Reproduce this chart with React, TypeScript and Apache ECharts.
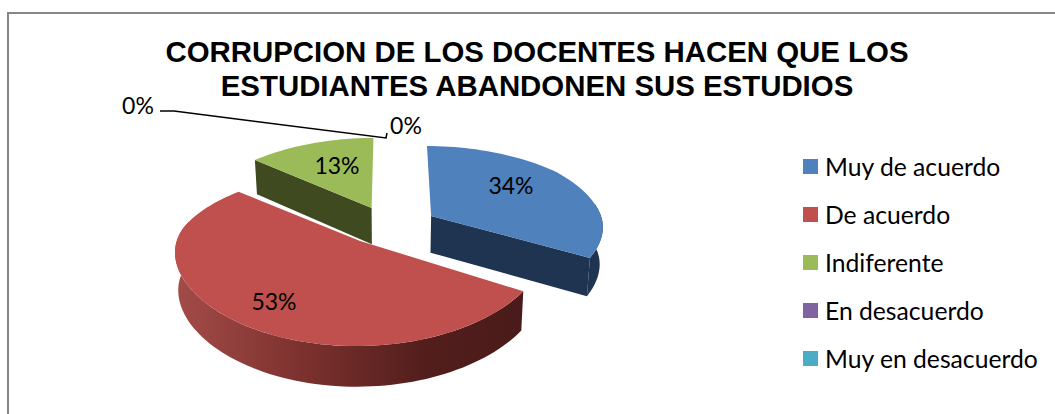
import React, { useEffect, useRef } from "react";
import * as echarts from "echarts";

const TITLE = "CORRUPCION DE LOS DOCENTES HACEN QUE LOS\nESTUDIANTES ABANDONEN SUS ESTUDIOS";
const categories = ["Muy de acuerdo", "De acuerdo", "Indiferente", "En desacuerdo", "Muy en desacuerdo"];
const values = [34, 53, 13, 0, 0];
const topColors = ["#4f81bd", "#c0504d", "#9bbb59", "#8064a2", "#4bacc6"];
const sideColors = ["#1f3450", "#7a302d", "#3f4a20", "#403151", "#215968"];
const seriesZ = [3, 4, 2, 5, 5];
const labelPositions = [[511, 185], [274, 301], [337, 165], [138, 105], [406, 125]];

const CX = 390, CY = 225, R = 179, EXPLODE = 0.266;
const FONT = "Lato";

// Tilted-pie projection of disk coordinates (u right, v towards the viewer)
function project(u: number, v: number, lower: boolean): number[] {
  const uu = u > 1 ? 1 + (u - 1) * 0.84 : u;
  const x = (R * uu) / (1 - 0.114 * v);
  const dy = v < 0 ? 70 * v : 71 * v + 24 * v * v;
  const depth = lower ? 37 + 3 * v : 0;
  return [CX + x * (lower ? 0.985 : 1), CY + dy + depth];
}
const dirOf = (deg: number) => [Math.sin((deg * Math.PI) / 180), -Math.cos((deg * Math.PI) / 180)];

function renderSlice(index: number) {
  return (_params: any, api: any) => {
    const total = values.reduce((a, b) => a + b, 0);
    const value = api.value(0);
    const start = (values.slice(0, index).reduce((a, b) => a + b, 0) / total) * 360;
    const end = start + (value / total) * 360;
    const children: any[] = [];
    if (value > 0) {
      const mid = dirOf((start + end) / 2);
      const ox = mid[0] * EXPLODE, oy = mid[1] * EXPLODE;
      const arc = (a: number, b: number, lower: boolean) => {
        const pts: number[][] = [];
        const n = Math.max(2, Math.ceil(Math.abs(b - a) / 2));
        for (let i = 0; i <= n; i++) {
          const d = dirOf(a + ((b - a) * i) / n);
          pts.push(project(ox + d[0], oy + d[1], lower));
        }
        return pts;
      };
      const apexTop = project(ox, oy, false);
      const apexLow = project(ox, oy, true);
      const side = sideColors[index];
      const radial = (deg: number) => {
        const d = dirOf(deg);
        children.push({
          type: "polygon",
          shape: { points: [apexTop, project(ox + d[0], oy + d[1], false), project(ox + d[0], oy + d[1], true), apexLow] },
          style: { fill: side },
        });
      };
      if (start % 360 > 180) radial(start);
      if (end % 360 > 0 && end % 360 < 180) radial(end);
      const a = Math.max(start, 80), b = Math.min(end, 285);
      if (b > a) {
        const isRed = index === 1;
        children.push({
          type: "polygon",
          shape: { points: [...arc(a, b, false), ...arc(b, a, true)] },
          style: {
            fill: isRed
              ? new echarts.graphic.LinearGradient(0, 0, 1, 0, [
                  { offset: 0, color: "#a34c49" },
                  { offset: 0.35, color: "#7e322f" },
                  { offset: 0.72, color: "#521e1c" },
                  { offset: 1, color: "#4a1b1a" },
                ])
              : side,
          },
        });
      }
      children.push({
        type: "polygon",
        shape: { points: [apexTop, ...arc(start, end, false)] },
        style: { fill: topColors[index] },
      });
    }
    children.push({
      type: "text",
      x: labelPositions[index][0],
      y: labelPositions[index][1],
      style: {
        text: `${value}%`,
        fill: "#000",
        font: `23px ${FONT}`,
        align: "center",
        verticalAlign: "middle",
      },
    });
    return { type: "group", children };
  };
}

export default function App() {
  const ref = useRef<HTMLDivElement>(null);
  useEffect(() => {
    const chart = echarts.init(ref.current!, null, { renderer: "svg" });
    chart.setOption({
      animation: false,
      backgroundColor: "#fff",
      title: {
        text: TITLE,
        left: 532,
        top: 29,
        textAlign: "center",
        textStyle: { fontFamily: "Liberation Sans", fontWeight: "bold", fontSize: 29.4, lineHeight: 34, color: "#000" },
      },
      legend: {
        orient: "vertical",
        left: 798,
        top: 149,
        icon: "rect",
        itemWidth: 15,
        itemHeight: 15,
        itemGap: 23,
        selectedMode: false,
        data: categories,
        textStyle: { fontFamily: FONT, fontSize: 24.7, color: "#000", padding: [0, 0, 0, 2] },
      },
      graphic: [
        {
          type: "polyline",
          shape: { points: [[160, 111], [174, 111], [386, 138], [387, 133]] },
          style: { stroke: "#000", lineWidth: 1.5, fill: "none" },
        },
        {
          type: "polyline",
          shape: { points: [[8, 414], [8, 13], [1055, 13]] },
          style: { stroke: "#868686", lineWidth: 2, fill: "none" },
        },
      ],
      series: categories.map((name, i) => ({
        type: "custom",
        name,
        coordinateSystem: "none",
        z: seriesZ[i],
        itemStyle: { color: topColors[i] },
        data: [[values[i]]],
        renderItem: renderSlice(i),
      })),
    });
    return () => chart.dispose();
  }, []);
  return <div ref={ref} style={{ position: "fixed", left: 0, top: 0, width: 1055, height: 414 }} />;
}
